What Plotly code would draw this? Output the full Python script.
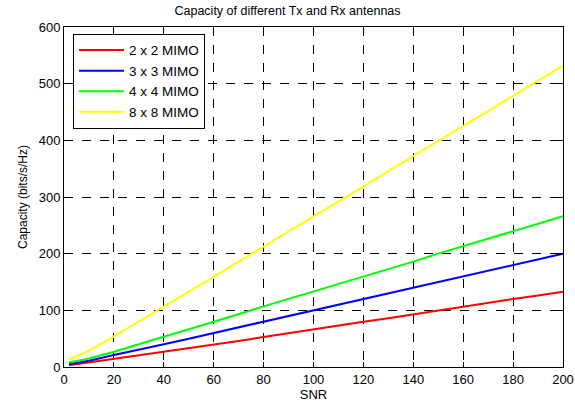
import plotly.graph_objects as go

snr = [2, 10, 20, 30, 40, 50, 60, 70, 80, 90, 100, 110, 120, 130, 140, 150, 160, 170, 180, 190, 200]
cap_2x2 = [3, 8, 14, 20, 27, 33, 40, 46, 53, 60, 66, 73, 80, 86, 93, 100, 106, 113, 120, 126, 133]
cap_3x3 = [5, 11, 21, 30, 40, 50, 60, 70, 80, 90, 100, 110, 120, 129, 139, 150, 160, 169, 180, 190, 200]
cap_4x4 = [8, 15, 27, 40, 53, 67, 80, 93, 107, 120, 133, 146, 160, 173, 186, 200, 213, 226, 240, 253, 266]
cap_8x8 = [13, 29, 54, 80, 106, 133, 159, 186, 213, 239, 266, 292, 319, 345, 372, 399, 425, 452, 478, 505, 532]

names = ["2 x 2 MIMO", "3 x 3 MIMO", "4 x 4 MIMO", "8 x 8 MIMO"]
colors = ["#ff0000", "#0000ff", "#00ff00", "#ffff00"]
series = [cap_2x2, cap_3x3, cap_4x4, cap_8x8]

fig = go.Figure()
for n, c, s in zip(names, colors, series):
    fig.add_trace(go.Scatter(x=snr, y=s, mode="lines", name=n,
                             line=dict(color=c, width=2)))

axis_common = dict(
    showline=True, linecolor="black", linewidth=1, mirror="ticks",
    ticks="inside", ticklen=5, tickcolor="black",
    showgrid=True, gridcolor="black", griddash="dash", gridwidth=1,
    zeroline=False, tickfont=dict(size=13, color="black"), automargin=False,
)

fig.update_layout(
    width=575, height=404,
    margin=dict(l=64, r=12, t=27, b=37),
    paper_bgcolor="white", plot_bgcolor="white",
    font=dict(family="Liberation Sans, Arial, sans-serif", color="black"),
    title=dict(text="Capacity of different Tx and Rx antennas", x=0.5, xanchor="center",
               y=0.985, yanchor="top", font=dict(size=12.5)),
    xaxis=dict(range=[0, 200], tickvals=list(range(0, 201, 20)),
               title=dict(text="SNR", font=dict(size=13), standoff=4), **axis_common),
    yaxis=dict(range=[0, 600], tickvals=list(range(0, 601, 100)),
               title=dict(text="Capacity (bits/s/Hz)", font=dict(size=12), standoff=8), **axis_common),
    legend=dict(x=0.018, y=0.98, xanchor="left", yanchor="top",
                bgcolor="white", bordercolor="black", borderwidth=1,
                font=dict(size=13.5), tracegroupgap=0, itemwidth=45),
    showlegend=True,
)

fig.write_html("out.html")
